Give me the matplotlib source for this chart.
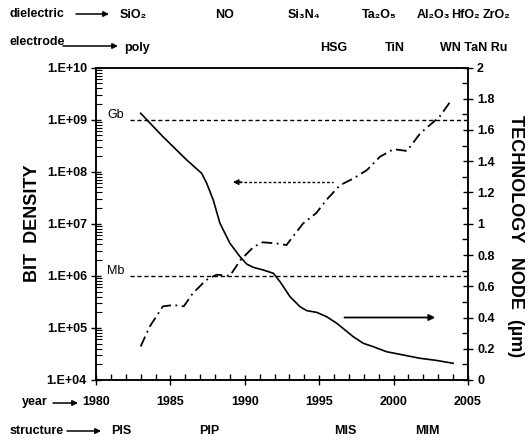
"""
Bit density and technology node of DRAM capacitors, 1980-2005.
"""
import matplotlib.pyplot as plt
import numpy as np
from matplotlib.ticker import FixedLocator, MultipleLocator, LogLocator, FuncFormatter, NullFormatter

plt.rcParams['font.family'] = ['Liberation Sans', 'DejaVu Sans']

# bit density (left axis, log scale)
density_years = [1983.0, 1983.6, 1984.5, 1985.2, 1985.9, 1986.5, 1987.4, 1988.1, 1989.0,
                 1989.7, 1990.6, 1991.2, 1992.1, 1992.8, 1993.9, 1994.8, 1995.5, 1996.4,
                 1997.3, 1998.2, 1999.1, 2000.0, 2000.9, 2001.8, 2002.7, 2003.1, 2003.9]
density = [4.4e4, 1.05e5, 2.6e5, 2.75e5, 2.6e5, 4.6e5, 8.3e5, 1.05e6, 1.0e6,
           2.0e6, 3.6e6, 4.4e6, 4.2e6, 3.9e6, 1.0e7, 1.6e7, 2.9e7, 5.5e7,
           7.4e7, 1.07e8, 1.95e8, 2.7e8, 2.5e8, 5.5e8, 9.1e8, 1.15e9, 2.4e9]

# technology node in um (right axis)
node_years = [1983.0, 1984.5, 1986.1, 1987.1, 1987.44, 1987.88, 1988.33, 1989.0, 1989.68,
              1990.13, 1990.57, 1991.24, 1991.92, 1992.37, 1993.04, 1993.71, 1994.16,
              1994.83, 1995.5, 1996.18, 1997.29, 1997.96, 1998.64, 1999.53, 2000.65,
              2001.77, 2002.9, 2004.0]
node = [1.707, 1.557, 1.408, 1.323, 1.259, 1.152, 1.003, 0.875, 0.789,
        0.742, 0.721, 0.704, 0.683, 0.629, 0.533, 0.469, 0.444,
        0.433, 0.405, 0.363, 0.277, 0.235, 0.213, 0.181, 0.160,
        0.139, 0.125, 0.107]

# reference levels
levels = [1e9, 1e6]
level_names = ['Gb', 'Mb']

# annotation rows (text, x pixel)
dielectrics = [('SiO\u2082', 120), ('NO', 215), ('Si\u2083N\u2084', 288), ('Ta\u2082O\u2085', 362),
               ('Al\u2082O\u2083', 417), ('HfO\u2082', 451), ('ZrO\u2082', 483)]
electrodes = [('poly', 124), ('HSG', 320), ('TiN', 385), ('WN TaN Ru', 440)]
structures = [('PIS', 111), ('PIP', 199), ('MIS', 334), ('MIM', 415)]

W, H = 528, 441
fig = plt.figure(figsize=(W / 100, H / 100), dpi=100)
ax = fig.add_axes([96 / W, 1 - 380 / H, 372 / W, 312.5 / H])
ax2 = ax.twinx()


def ftext(x, y, s, **kw):
    fig.text(x / W, 1 - y / H, s, ha='left', va='center', fontsize=9,
             fontweight='bold', **kw)


def farrow(x0, x1, y):
    ax.annotate('', xy=(x1, H - y), xytext=(x0, H - y), xycoords='figure pixels',
                textcoords='figure pixels', annotation_clip=False,
                arrowprops=dict(arrowstyle='-|>', color='black', lw=1.1,
                                mutation_scale=8, shrinkA=0, shrinkB=0))


ax.plot(density_years, density, color='black', lw=1.3,
        linestyle=(0, (6, 2.5, 1, 2.5)))
ax2.plot(node_years, node, color='black', lw=1.2)

for lev, name in zip(levels, level_names):
    ax.plot([1982.3, 2005], [lev, lev], color='black', lw=1, linestyle=(0, (3, 2)))
    ax.text(1980.75, lev * 1.25, name, fontsize=9, ha='left', va='center')

ax.set_xlim(1980, 2005)
ax.set_yscale('log')
ax.set_ylim(1e4, 1e10)
ax2.set_ylim(0, 2)

# dotted arrow -> left axis, solid arrow -> right axis
ax.plot([1989.6, 1995.9], [6.3e7, 6.3e7], color='black', lw=1, linestyle=(0, (2, 1.5)))
ax.annotate('', xy=(1989.2, 6.3e7), xytext=(1989.8, 6.3e7),
            arrowprops=dict(arrowstyle='-|>', color='black', lw=1, mutation_scale=8,
                            shrinkA=0, shrinkB=0))
ax2.annotate('', xy=(2002.8, 0.4), xytext=(1996.7, 0.4),
             arrowprops=dict(arrowstyle='-|>', color='black', lw=1.3, mutation_scale=9,
                             shrinkA=0, shrinkB=0))

ax.xaxis.set_major_locator(MultipleLocator(5))
ax.xaxis.set_minor_locator(MultipleLocator(1))
ax.yaxis.set_major_locator(FixedLocator([1e4, 1e5, 1e6, 1e7, 1e8, 1e9, 1e10]))
ax.yaxis.set_minor_locator(LogLocator(base=10, subs=np.arange(2, 10), numticks=100))
ax.yaxis.set_minor_formatter(NullFormatter())
ax.yaxis.set_major_formatter(FuncFormatter(lambda v, p: '1.E+%02d' % round(np.log10(v))))
ax2.yaxis.set_major_locator(MultipleLocator(0.2))
ax2.yaxis.set_minor_locator(MultipleLocator(0.1))
ax2.yaxis.set_major_formatter(FuncFormatter(lambda v, p: ('%.1f' % v).rstrip('0').rstrip('.')))

ax.tick_params(axis='x', which='major', direction='inout', length=7, width=1,
               pad=8, labelsize=9, top=False)
ax.tick_params(axis='x', which='minor', direction='in', length=4, width=1, top=False)
ax.tick_params(axis='y', which='major', direction='inout', length=7, width=1,
               pad=3, labelsize=9)
ax.tick_params(axis='y', which='minor', direction='in', length=4, width=0.8)
ax2.tick_params(axis='y', which='major', direction='inout', length=7, width=1,
                pad=3, labelsize=9)
ax2.tick_params(axis='y', which='minor', direction='in', length=4, width=1)
for a in (ax, ax2):
    for lab in a.get_xticklabels() + a.get_yticklabels():
        lab.set_fontweight('bold')
    for sp in a.spines.values():
        sp.set_linewidth(1.1)

ax.set_ylabel('BIT  DENSITY', fontsize=13, fontweight='bold', labelpad=4)
ax2.set_ylabel('TECHNOLOGY   NODE  (\u00b5m)', fontsize=13, fontweight='bold',
               rotation=-90, va='bottom', labelpad=4)
ax2.yaxis.set_label_coords(1.105, 0.46)

# rows above and below the plot
ftext(10, 14, 'dielectric')
farrow(76, 109, 14)
for s, x in dielectrics:
    ftext(x, 15, s)
ftext(10, 42, 'electrode')
farrow(63, 118, 46)
for s, x in electrodes:
    ftext(x, 48, s)
ftext(22, 402, 'year')
farrow(53, 78, 403)
ftext(10, 431, 'structure')
farrow(67, 101, 431)
for s, x in structures:
    ftext(x, 431, s)

fig.savefig('out.png', dpi=100)
